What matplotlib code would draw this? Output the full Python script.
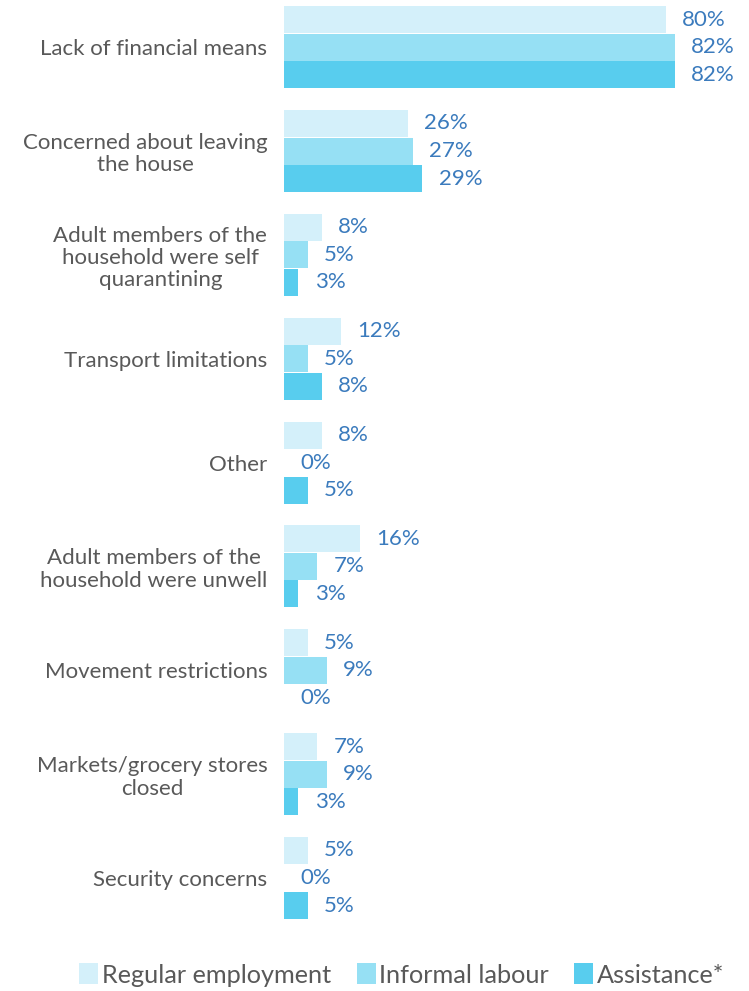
import matplotlib.pyplot as plt
import numpy as np

plt.rcParams['font.family'] = ['Lato', 'DejaVu Sans']

### Data
categories = ['Lack of financial means', 'Concerned about leaving\nthe house',
              'Adult members of the\nhousehold were self\nquarantining', 'Transport limitations',
              'Other', 'Adult members of the\nhousehold were unwell', 'Movement restrictions',
              'Markets/grocery stores\nclosed', 'Security concerns']
series = ['Regular employment', 'Informal labour', 'Assistance*']
regular = [80, 26, 8, 12, 8, 16, 5, 7, 5]
informal = [82, 27, 5, 5, 0, 7, 9, 9, 0]
assistance = [82, 29, 3, 8, 5, 3, 0, 3, 5]
colors = ['#D4F0FA', '#96E0F4', '#58CDEE']

fig = plt.figure(figsize=(7.49, 9.91), dpi=100)
ax = fig.add_axes([284/749, 1 - 932/991, 1 - 284/749, 932/991])

y = np.arange(len(categories))
h = 0.26
off = 0.265
for i, (vals, c) in enumerate(zip([regular, informal, assistance], colors)):
    yy = y + (i - 1) * off
    ax.barh(yy, vals, height=h, color=c, edgecolor='none', label=series[i])
    for yi, v in zip(yy, vals):
        ax.text(v + 3.4, yi, f'{v}%', va='center', ha='left', fontsize=16, color='#3B7BBD')

ax.set_xlim(0, 97.5)
ax.set_ylim(8.52, -0.454)
ax.set_yticks(y)
ax.set_yticklabels(categories, fontsize=16, color='#595959', multialignment='center',
                   linespacing=1.15)
ax.tick_params(axis='y', length=0, pad=12)
ax.set_xticks([])
for s in ax.spines.values():
    s.set_visible(False)

fig.legend(loc='center', bbox_to_anchor=(402/749, 1 - 975/991), ncol=3, frameon=False,
           fontsize=18.2, handlelength=0.75, handleheight=0.9, handletextpad=0.15,
           columnspacing=1.0, labelcolor='#595959')

fig.savefig('out.png', dpi=100)
